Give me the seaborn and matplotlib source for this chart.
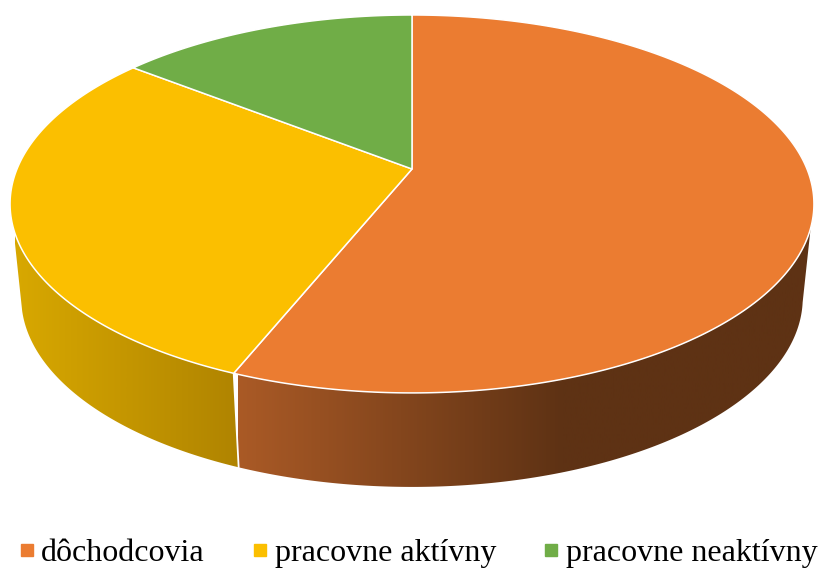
import numpy as np
import matplotlib
matplotlib.use("Agg")
import matplotlib.pyplot as plt
import seaborn as sns
from matplotlib.colors import LinearSegmentedColormap
from matplotlib.lines import Line2D
from matplotlib.patches import Polygon

# slice shares
labels = ['dôchodcovia', 'pracovne aktívny', 'pracovne neaktívny']
shares = [56.1, 29.5, 14.4]
colors = ['#EB7C31', '#FBBF00', '#70AD47']

sns.set_theme(style='white')
plt.rcParams['font.family'] = ['Liberation Serif', 'DejaVu Serif']

fig = plt.figure(figsize=(8.18, 5.68), dpi=100)
ax = fig.add_axes([0, 0, 1, 1])

# pie works out the slice angles, the perspective below is drawn from them
wedges, _ = ax.pie(shares, colors=colors, startangle=90, counterclock=False)
angles = [(w.theta1, w.theta2) for w in wedges]
for w in wedges:
    w.remove()
ax.set_aspect('auto')
ax.axis('off')

PERSP = 0.185


def project(theta, cx, cy, kx, ky):
    # tilted circle to pixel position
    t = np.radians(theta)
    u, v = np.cos(t), np.sin(t)
    w = 1 + PERSP * v
    return cx + kx * u / w, cy - ky * v / w


def top(theta):
    return project(theta, 412, 169, 395, 182.5)


def bottom(theta):
    return project(theta, 412, 263, 384, 182.5)


def wall(theta_a, theta_b, bot_a, bot_b, stops, x0, x1):
    # side of the pie: gradient image clipped to the band between both rims
    xt, yt = top(np.linspace(theta_a, theta_b, 200))
    xb, yb = bottom(np.linspace(bot_b, bot_a, 200))
    poly = Polygon(np.column_stack([np.r_[xt, xb], np.r_[yt, yb]]),
                   closed=True, facecolor='none', edgecolor='none')
    ax.add_patch(poly)
    cmap = LinearSegmentedColormap.from_list('side', stops)
    im = ax.imshow(np.linspace(0, 1, 512).reshape(1, -1), cmap=cmap, aspect='auto',
                   extent=(x0, x1, 568, 0), zorder=1)
    im.set_clip_path(poly)


seam = angles[0][0]
wall(-162.2, seam, -165.5, seam, [(0, '#D8A800'), (1, '#B08400')], 15, 238)
wall(seam, -17.8, seam, -12, [(0, '#AA5A26'), (0.56, '#5E3214'), (1, '#5E3214')], 238, 818)

# the image calls reset the limits
ax.set_xlim(0, 818)
ax.set_ylim(568, 0)

# seam between the two visible sides
sx = [top(seam)[0], bottom(seam)[0]]
sy = [top(seam)[1], bottom(seam)[1]]
ax.plot(sx, sy, color='white', lw=1.3, zorder=2)

# top face
for (t1, t2), c in zip(angles, colors):
    ts = np.linspace(t1, t2, 300)
    x, y = top(ts)
    ax.fill(np.r_[412, x], np.r_[169, y], facecolor=c, edgecolor='white', lw=1.1, zorder=3, joinstyle='round')

handles = [Line2D([], [], marker='s', ls='', color=c, markersize=8) for c in colors]
leg = fig.legend(handles, labels, loc='lower left', bbox_to_anchor=(-0.0123, -0.042), ncol=3, frameon=False,
                 fontsize=23, handletextpad=0.06, columnspacing=1.32, handlelength=0.8, borderpad=0.25)
for t in leg.get_texts():
    t.set_color('black')

fig.savefig('out.png', dpi=100)
